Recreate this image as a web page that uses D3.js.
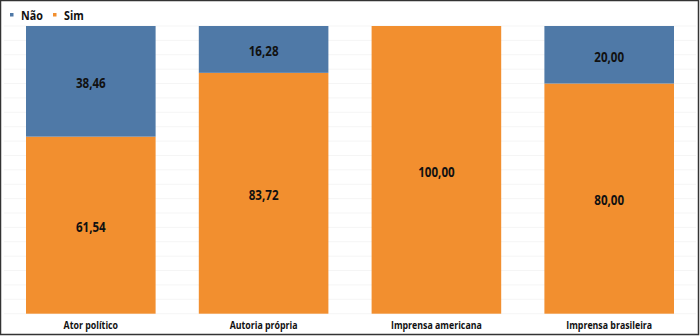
<!DOCTYPE html>
<html><head><meta charset="utf-8">
<script src="https://cdn.jsdelivr.net/npm/d3@7"></script>
<style>body{margin:0;background:#fff}svg{display:block}text{font-family:"Open Sans",sans-serif;font-weight:bold;fill:#111}</style>
</head><body><svg id="c" width="700" height="336"></svg>
<script>
const categories = ["Ator político","Autoria própria","Imprensa americana","Imprensa brasileira"];
const sim = [61.54, 83.72, 100.00, 80.00];
const nao = [38.46, 16.28, 0, 20.00];
const seriesNames = ["Não","Sim"];
const colors = {"Não":"#4f79a7","Sim":"#f28f2f"};
const fmt = v => v.toFixed(2).replace(".", ",");

const svg = d3.select("#c");
svg.append("rect").attr("x",0.5).attr("y",0.5).attr("width",698).attr("height",334)
  .attr("fill","#fff").attr("stroke","#333").attr("stroke-width",1.5);

const x = d3.scaleBand().domain(categories).range([4.4,695.6]).paddingInner(0.25).paddingOuter(0.125);
const y = d3.scaleLinear().domain([0,100]).range([313.7,26]);

// faint gridlines
svg.append("g").selectAll("line").data(d3.range(0,101,5)).join("line")
  .attr("x1",4).attr("x2",696).attr("y1",d=>y(d)).attr("y2",d=>y(d))
  .attr("stroke","#f5f5f5").attr("stroke-width",1);

const rows = categories.map((c,i)=>({cat:c,"Sim":sim[i],"Não":nao[i]}));
const stack = d3.stack().keys(["Sim","Não"])(rows);

const g = svg.append("g");
stack.forEach(layer=>{
  g.selectAll(null).data(layer).join("rect")
    .attr("x",d=>x(d.data.cat)).attr("width",x.bandwidth())
    .attr("y",d=>y(d[1])).attr("height",d=>y(d[0])-y(d[1]))
    .attr("fill",colors[layer.key]);
  g.selectAll(null).data(layer.filter(d=>d[1]-d[0]>0)).join("text")
    .attr("transform",d=>`translate(${x(d.data.cat)+x.bandwidth()/2},${(y(d[0])+y(d[1]))/2+2}) scale(0.86,1)`)
    .attr("text-anchor","middle").attr("dominant-baseline","central")
    .attr("font-size",13.5).text(d=>fmt(d[1]-d[0]));
});

// x axis labels
svg.append("g").selectAll("text").data(categories).join("text")
  .attr("transform",d=>`translate(${x(d)+x.bandwidth()/2},324.5) scale(0.8,1)`)
  .attr("text-anchor","middle").attr("dominant-baseline","central")
  .attr("font-size",11).text(d=>d);

// legend
const lg = svg.append("g");
const lx = [10, 53];
seriesNames.forEach((s,i)=>{
  lg.append("rect").attr("x",lx[i]).attr("y",13).attr("width",3.5).attr("height",3.5).attr("fill",colors[s]);
  lg.append("text").attr("transform",`translate(${lx[i]+11},15.5) scale(0.86,1)`).attr("dominant-baseline","central")
    .attr("font-size",12.5).text(s);
});
</script></body></html>
